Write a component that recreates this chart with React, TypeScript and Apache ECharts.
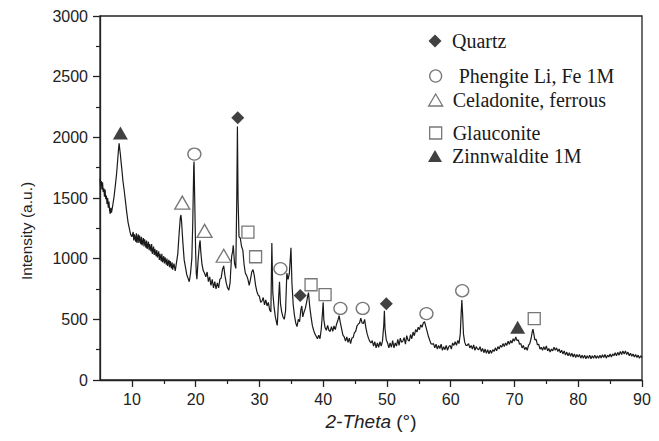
import React, { useEffect, useRef } from "react";
import * as echarts from "echarts";

const xMajorTicks = [10, 20, 30, 40, 50, 60, 70, 80, 90];
const xMinorTicks = [15, 25, 35, 45, 55, 65, 75, 85];

const segA: [number, number][] = [
  [5.0, 1660], [5.1, 1600], [5.2, 1640], [5.3, 1570], [5.4, 1630], [5.5, 1550], [5.6, 1580], [5.7, 1510],
  [5.8, 1570], [5.9, 1490], [6.0, 1520], [6.1, 1450], [6.2, 1500], [6.3, 1420], [6.4, 1470], [6.5, 1400],
  [6.6, 1370], [6.7, 1420], [6.8, 1380], [7.0, 1440], [7.2, 1510], [7.4, 1600], [7.6, 1700],
  [7.8, 1830], [7.9, 1900], [8.0, 1950], [8.1, 1900], [8.2, 1860], [8.3, 1800], [8.4, 1750], [8.6, 1640],
  [8.8, 1560], [9.0, 1470], [9.2, 1380], [9.4, 1300], [9.6, 1250], [9.8, 1200], [10.0, 1180], [10.2, 1220],
  [10.3, 1150], [10.4, 1200], [10.6, 1140], [10.7, 1210], [10.8, 1130], [11.0, 1200], [11.1, 1130], [11.2, 1190],
  [11.4, 1120], [11.5, 1180], [11.6, 1110], [11.8, 1170], [11.9, 1100], [12.0, 1160], [12.2, 1090], [12.3, 1150],
  [12.4, 1080], [12.6, 1140], [12.7, 1070], [12.8, 1120], [13.0, 1060], [13.1, 1120], [13.2, 1040], [13.4, 1100],
  [13.5, 1030], [13.6, 1080], [13.8, 1020], [13.9, 1070], [14.0, 1010], [14.2, 1060], [14.3, 990], [14.4, 1040],
  [14.6, 980], [14.7, 1040], [14.8, 970], [15.0, 1020], [15.1, 960], [15.2, 1010], [15.4, 950], [15.5, 1000],
  [15.6, 940], [15.8, 990], [15.9, 930], [16.0, 980], [16.2, 920], [16.3, 970], [16.4, 910], [16.6, 960],
  [16.8, 900], [17.0, 970], [17.2, 1040], [17.4, 1200], [17.6, 1340], [17.7, 1360], [17.8, 1300], [18.0, 1130],
  [18.2, 990], [18.4, 930], [18.6, 870], [18.8, 840], [19.0, 810], [19.2, 880], [19.4, 1000], [19.55, 1300],
  [19.7, 1760], [19.75, 1800], [19.85, 1500], [20.0, 1050],
];

const segB: [number, number][] = [
  [20.1, 880], [20.2, 830], [20.4, 1000], [20.6, 1120], [20.7, 1150], [20.8, 1060], [21.0, 950], [21.2, 900],
  [21.4, 880], [21.6, 850], [21.8, 890], [22.0, 810], [22.2, 850], [22.4, 780], [22.6, 830], [22.8, 760],
  [23.0, 810], [23.2, 750], [23.4, 800], [23.6, 760], [23.8, 830], [24.0, 840], [24.2, 910], [24.4, 940],
  [24.6, 860], [24.8, 800], [25.0, 760], [25.2, 740], [25.4, 800], [25.5, 900], [25.65, 1020], [25.8, 1060],
  [25.9, 1110], [26.1, 960], [26.3, 920], [26.45, 1500], [26.55, 2090], [26.65, 1500], [26.8, 1180], [27.0, 1170],
  [27.2, 1100], [27.4, 1070], [27.6, 950], [27.8, 880], [28.0, 860], [28.2, 830], [28.4, 780], [28.6, 830],
  [28.8, 890], [29.0, 910], [29.2, 860], [29.4, 780], [29.6, 730], [29.8, 700], [30.0, 690], [30.2, 640],
  [30.4, 650], [30.6, 680], [30.8, 620], [31.0, 660], [31.2, 610], [31.4, 640], [31.6, 580], [31.8, 560],
  [31.95, 1130], [32.1, 720], [32.3, 600], [32.5, 520], [32.7, 470], [32.8, 450], [33.0, 660], [33.15, 810],
  [33.3, 630], [33.5, 560], [33.7, 520], [33.9, 500], [34.1, 570], [34.3, 880], [34.5, 830], [34.7, 880],
  [34.95, 1090], [35.1, 800], [35.3, 620], [35.5, 530], [35.7, 470], [35.9, 440], [36.1, 500], [36.3, 480],
  [36.5, 580], [36.65, 610], [36.8, 520], [37.0, 560], [37.2, 590], [37.4, 640], [37.6, 700], [37.7, 720],
  [37.9, 600], [38.1, 520], [38.3, 450], [38.5, 410], [38.7, 380], [38.9, 360], [39.1, 340], [39.3, 370],
  [39.5, 340], [39.7, 420], [39.9, 560], [40.0, 640],
];

const segC: [number, number][] = [
  [40.1, 500], [40.3, 430], [40.5, 410], [40.7, 450], [40.9, 410], [41.1, 400], [41.3, 440], [41.5, 400],
  [41.7, 445], [41.9, 415], [42.1, 460], [42.3, 490], [42.5, 530], [42.7, 470], [42.9, 420], [43.1, 370],
  [43.3, 355], [43.5, 320], [43.7, 355], [43.9, 310], [44.1, 345], [44.3, 300], [44.5, 345], [44.7, 350],
  [44.9, 390], [45.1, 400], [45.3, 445], [45.5, 460], [45.7, 470], [45.9, 510], [46.1, 470], [46.3, 465],
  [46.5, 500], [46.7, 430], [46.9, 380], [47.1, 345], [47.3, 320], [47.5, 305], [47.7, 325], [47.9, 280],
  [48.1, 315], [48.3, 265], [48.5, 305], [48.7, 270], [48.9, 315], [49.1, 280], [49.3, 320], [49.5, 450],
  [49.6, 570], [49.7, 420], [49.9, 330], [50.1, 305], [50.3, 265], [50.5, 305], [50.7, 270], [50.9, 325],
  [51.1, 265], [51.3, 305], [51.5, 280], [51.7, 335], [51.9, 285], [52.1, 345], [52.3, 310], [52.5, 320],
  [52.7, 350], [52.9, 295], [53.1, 365], [53.3, 330], [53.5, 320], [53.7, 375], [53.9, 340], [54.1, 395],
  [54.3, 365], [54.5, 415], [54.7, 395], [54.9, 435], [55.1, 415], [55.3, 455], [55.5, 435], [55.7, 470],
  [55.9, 480], [56.1, 440], [56.3, 400], [56.5, 360], [56.7, 330], [56.9, 300], [57.1, 295], [57.3, 300],
  [57.5, 265], [57.7, 295], [57.9, 255], [58.1, 285], [58.3, 260], [58.5, 295], [58.7, 245], [58.9, 275],
  [59.1, 250], [59.3, 285], [59.5, 245], [59.7, 275], [59.9, 285], [60.1, 255], [60.3, 305], [60.5, 285],
  [60.7, 315], [60.9, 285], [61.1, 325], [61.3, 300], [61.5, 380], [61.65, 560], [61.75, 660], [61.85, 560],
  [62.0, 380], [62.2, 310], [62.4, 285], [62.6, 285], [62.8, 300], [63.0, 265], [63.2, 285], [63.4, 255],
  [63.6, 290], [63.8, 245], [64.0, 275], [64.2, 255], [64.4, 250], [64.6, 275], [64.8, 235],
];

const segD: [number, number][] = [
  [65.0, 260], [65.2, 225], [65.4, 255], [65.6, 220], [65.8, 250], [66.0, 215], [66.2, 245], [66.4, 220],
  [66.6, 250], [66.8, 235], [67.0, 265], [67.2, 240], [67.4, 275], [67.6, 255], [67.8, 285], [68.0, 270],
  [68.2, 300], [68.4, 275], [68.6, 305], [68.8, 285], [69.0, 320], [69.2, 295], [69.4, 325], [69.6, 305],
  [69.8, 340], [70.0, 320], [70.2, 355], [70.4, 325], [70.6, 330], [70.8, 295], [71.0, 300], [71.2, 265],
  [71.4, 285], [71.6, 250], [71.8, 270], [72.0, 245], [72.2, 285], [72.4, 300], [72.6, 340], [72.8, 400],
  [72.9, 420], [73.0, 390], [73.2, 330], [73.4, 335], [73.6, 290], [73.8, 295], [74.0, 255], [74.2, 270],
  [74.4, 245], [74.6, 275], [74.8, 250], [75.0, 280], [75.2, 240], [75.4, 260], [75.6, 230], [75.8, 255],
  [76.0, 240], [76.2, 270], [76.4, 245], [76.6, 265], [76.8, 235], [77.0, 255], [77.2, 225], [77.4, 245],
  [77.6, 215], [77.8, 240], [78.0, 205], [78.2, 230], [78.4, 200], [78.6, 225], [78.8, 195], [79.0, 220],
  [79.2, 190], [79.4, 215], [79.6, 185], [79.8, 210], [80.0, 190], [80.2, 210], [80.4, 180], [80.6, 205],
  [80.8, 180], [81.0, 205], [81.2, 175], [81.4, 200], [81.6, 180], [81.8, 205], [82.0, 175], [82.2, 200],
  [82.4, 180], [82.6, 205], [82.8, 178], [83.0, 200], [83.2, 180], [83.4, 205], [83.6, 182], [83.8, 208],
  [84.0, 185], [84.2, 210], [84.4, 180], [84.6, 205], [84.8, 190], [85.0, 215], [85.2, 190], [85.4, 215],
  [85.6, 200], [85.8, 225], [86.0, 200], [86.2, 228], [86.4, 205], [86.6, 235], [86.8, 210], [87.0, 240],
  [87.2, 215], [87.4, 240], [87.6, 210], [87.8, 230], [88.0, 200], [88.2, 220], [88.4, 195], [88.6, 215],
  [88.8, 190], [89.0, 210], [89.2, 185], [89.4, 205], [89.6, 180], [89.8, 200], [90.0, 185],
];

const quartz: [number, number][] = [[26.6, 2161], [36.4, 697], [49.9, 629]];
const phengite: [number, number][] = [[19.8, 1862], [33.3, 917], [42.7, 590], [46.2, 590], [56.2, 547], [61.8, 736]];
const celadonite: [number, number][] = [[17.9, 1462], [21.4, 1229], [24.4, 1024]];
const glauconite: [number, number][] = [[28.2, 1219], [29.4, 1016], [38.1, 785], [40.3, 703], [73.1, 506]];
const zinnwaldite: [number, number][] = [[8.2, 2035], [70.5, 434]];

const names = ["Quartz", "Phengite Li, Fe 1M", "Celadonite, ferrous", "Glauconite", "Zinnwaldite 1M"];

const SANS = "'Liberation Sans', Arial, sans-serif";
const SERIF = "'Liberation Serif', 'Times New Roman', serif";
const INK = "#1a1a1a";
const HOLLOW = "#555";

export default function App() {
  const ref = useRef<HTMLDivElement>(null);
  useEffect(() => {
    if (!ref.current) return;
    const chart = echarts.init(ref.current, undefined, { renderer: "svg" });
    const pattern = [...segA, ...segB, ...segC, ...segD];
    const legendCenters = [41, 76, 100, 133, 156];
    const legendIcons = ["diamond", "circle", "triangle", "rect", "triangle"];
    const legendSizes = [13, 12, 14, 12, 14];
    const textStarts = [452, 458, 452, 452, 452];
    const iconCenter = 435;
    const legends = names.map((n, i) => {
      const w = legendSizes[i];
      const left = iconCenter - w / 2;
      const pad = textStarts[i] - (left + w + 5);
      return {
        data: [{ name: n, icon: legendIcons[i] }],
        left,
        top: legendCenters[i] - 11,
        padding: 0,
        itemWidth: w,
        itemHeight: i === 2 || i === 4 ? 12 : w,
        selectedMode: false,
        itemStyle: i === 0 || i === 4 ? { borderWidth: 0 } : { borderWidth: 1.3 },
        formatter: "{t|{name}}",
        textStyle: {
          fontFamily: SERIF,
          fontSize: 20,
          lineHeight: 22,
          color: INK,
          rich: {
            t: { fontFamily: SERIF, fontSize: 20, lineHeight: 22, color: INK, padding: [0, 0, 0, pad] },
          },
        },
      };
    });
    const scatter = (name: string, data: [number, number][], symbol: string, size: any, filled: boolean) => ({
      name,
      type: "scatter",
      data,
      symbol,
      symbolSize: size,
      z: 5,
      itemStyle: filled
        ? { color: "#111" }
        : { color: "#fff", borderColor: HOLLOW, borderWidth: 1.3 },
    });
    chart.setOption({
      animation: false,
      legend: legends,
      grid: {
        left: 100,
        right: 17,
        top: 16,
        bottom: 61,
        show: true,
        borderColor: "#222",
        borderWidth: 1.3,
        backgroundColor: "transparent",
      },
      graphic: [
        {
          type: "text",
          x: 26,
          y: 231,
          rotation: Math.PI / 2,
          style: {
            text: "Intensity (a.u.)",
            fontFamily: SANS,
            fontSize: 15.5,
            fill: "#222",
            align: "center",
            verticalAlign: "middle",
          },
        },
      ],
      xAxis: [
        {
          type: "value",
          min: 5,
          max: 90,
          interval: 5,
          position: "bottom",
          axisLine: { show: true, lineStyle: { color: "#222", width: 1.3 } },
          axisTick: { show: true, customValues: xMajorTicks, length: 7, lineStyle: { color: "#222", width: 1.3 } },
          axisLabel: {
            customValues: xMajorTicks,
            margin: 11,
            fontFamily: SANS,
            fontSize: 16,
            color: "#222",
          },
          splitLine: { show: false },
          name: "{i|2-Theta} (°)",
          nameLocation: "middle",
          nameGap: 30,
          nameTextStyle: {
            fontFamily: SANS,
            fontSize: 19,
            color: "#222",
            rich: { i: { fontFamily: SANS, fontSize: 19, fontStyle: "italic", color: "#222" } },
          },
        },
        {
          type: "value",
          min: 5,
          max: 90,
          interval: 5,
          position: "bottom",
          offset: 0,
          axisLine: { show: false },
          axisTick: { show: true, customValues: xMinorTicks, length: 4, lineStyle: { color: "#222", width: 1.2 } },
          axisLabel: { show: false },
          splitLine: { show: false },
        },
      ],
      yAxis: {
        type: "value",
        min: 0,
        max: 3000,
        interval: 500,
        axisLine: { show: true, lineStyle: { color: "#222", width: 1.3 } },
        axisTick: { show: true, length: 7, lineStyle: { color: "#222", width: 1.3 } },
        minorTick: { show: true, splitNumber: 2, length: 4, lineStyle: { color: "#222", width: 1.2 } },
        splitLine: { show: false },
        axisLabel: {
          margin: 12,
          fontFamily: SANS,
          fontSize: 16,
          color: "#222",
          formatter: (v: number) => String(v),
        },
      },
      series: [
        {
          name: "pattern",
          type: "line",
          data: pattern,
          showSymbol: false,
          symbol: "none",
          lineStyle: { color: INK, width: 1.2 },
          z: 2,
        },
        scatter(names[0], quartz, "diamond", 13, true),
        scatter(names[1], phengite, "circle", [13, 12], false),
        scatter(names[2], celadonite, "triangle", [15, 13], false),
        scatter(names[3], glauconite, "rect", [12, 12], false),
        scatter(names[4], zinnwaldite, "triangle", [15, 13], true),
      ],
    });
    return () => chart.dispose();
  }, []);
  return (
    <div
      ref={ref}
      style={{ position: "fixed", left: 0, top: 0, width: 659, height: 441, background: "#fff" }}
    />
  );
}
